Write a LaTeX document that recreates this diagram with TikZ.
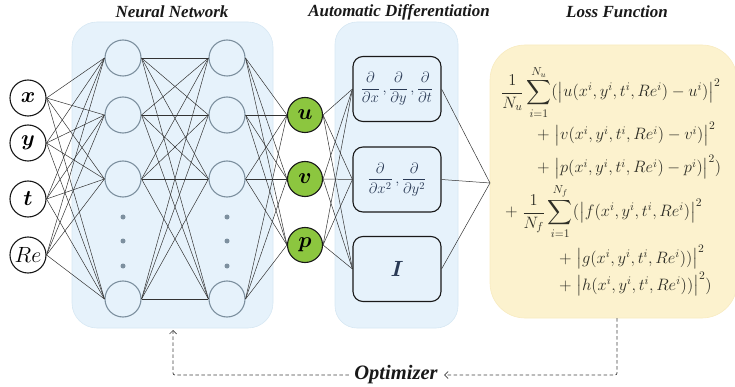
\RequirePackage{fix-cm}
\documentclass[tikz,border=0pt]{standalone}
\usepackage{amsmath}
\usepackage[no-math]{fontspec}
\newfontfamily\titlefont{Liberation Serif}
\usetikzlibrary{arrows.meta}
\definecolor{nnbg}{HTML}{E6F2FB}
\definecolor{nnborder}{HTML}{D6E7F3}
\definecolor{lossbg}{HTML}{FCF2CE}
\definecolor{lossborder}{HTML}{F8EBC0}
\definecolor{hcirc}{HTML}{7D909F}
\definecolor{outgreen}{HTML}{8CC63F}
\definecolor{eqcol}{HTML}{2E2E26}
\definecolor{adcol}{HTML}{2A3A55}
\definecolor{conncol}{HTML}{333333}
\tikzset{
  bgpanel/.style={fill=nnbg, draw=nnborder, line width=0.6pt},
  titletext/.style={font=\titlefont\bfseries\itshape\fontsize{17}{20}\selectfont, text=black!90},
  innode/.style={circle, draw=black!90, line width=1.1pt, fill=white, minimum size=36pt, inner sep=0pt, font=\fontsize{22}{26}\selectfont},
  hnode/.style={circle, draw=hcirc, line width=1.1pt, fill=nnbg, minimum size=36pt, inner sep=0pt},
  outnode/.style={circle, draw=black!90, line width=1.1pt, fill=outgreen, minimum size=35pt, inner sep=0pt, font=\fontsize{22}{26}\selectfont},
  adbox/.style={rectangle, rounded corners=10pt, draw=black!90, line width=1.1pt, fill=nnbg, minimum width=88pt, minimum height=65pt, inner sep=0pt, text=adcol, font=\fontsize{15}{18}\selectfont},
  conn/.style={draw=conncol, line width=0.5pt},
  dotnode/.style={circle, fill=hcirc, minimum size=5pt, inner sep=0pt},
  eqline/.style={anchor=base west, inner sep=0pt, text=eqcol, font=\fontsize{16.5}{20}\selectfont},
  dashl/.style={draw=black!75, line width=0.7pt, dash pattern=on 3.5pt off 2.5pt, rounded corners=2pt},
  optarrow/.style={-{Straight Barb[length=3.5pt,width=7pt]}}
}
\begin{document}
\begin{tikzpicture}[x=1pt,y=-1pt]
\useasboundingbox (0,0) rectangle (735,387);
% panels
\fill[bgpanel, rounded corners=25pt] (72,22) rectangle (273,328);
\fill[bgpanel, rounded corners=22pt] (335,22) rectangle (458,328);
\node[rectangle, rounded corners=35pt, fill=lossbg, draw=lossborder, line width=0.6pt, minimum width=247pt, minimum height=273pt, inner sep=0pt] (loss) at (613.5,181.5) {};
% titles
\node[titletext] (t1) at (172,12) {Neural Network};
\node[titletext] (t2) at (399,12) {Automatic Differentiation};
\node[titletext] (t3) at (617,12) {Loss Function};
% input nodes
\node[innode] (i1) at (28,98) {$\boldsymbol{x}$};
\node[innode] (i2) at (28,143) {$\boldsymbol{y}$};
\node[innode] (i3) at (28,199) {$\boldsymbol{t}$};
\node[innode] (i4) at (28,255) {$Re$};
% hidden layers
\foreach \y [count=\k] in {58,115,179,299} {
  \node[hnode] (ha\k) at (123,\y) {};
  \node[hnode] (hb\k) at (227,\y) {};
}
\foreach \y [count=\k] in {217,241,266} {
  \node[dotnode] (da\k) at (123,\y) {};
  \node[dotnode] (db\k) at (227,\y) {};
}
% outputs
\node[outnode] (o1) at (305,115) {$\boldsymbol{u}$};
\node[outnode] (o2) at (305,179) {$\boldsymbol{v}$};
\node[outnode] (o3) at (305,245) {$\boldsymbol{p}$};
% AD boxes
\node[adbox] (d1) at (397,89) {$\displaystyle\frac{\partial}{\partial x}\,,\frac{\partial}{\partial y}\,,\frac{\partial}{\partial t}$};
\node[adbox] (d2) at (397,179.5) {$\displaystyle\frac{\partial}{\partial x^2}\,,\frac{\partial}{\partial y^2}$};
\node[adbox, font=\fontsize{22}{26}\selectfont] (d3) at (397,269) {$\boldsymbol{I}$};
% connections
\foreach \a in {1,2,3,4} \foreach \b in {1,2,3,4} {
  \draw[conn] (i\a.east) -- (ha\b.west);
  \draw[conn] (ha\a.east) -- (hb\b.west);
}
\foreach \a in {1,2,3,4} \foreach \b in {1,2,3} {
  \draw[conn] (hb\a.east) -- (o\b.west);
}
\foreach \a in {1,2,3} \foreach \b in {1,2,3} {
  \draw[conn] (o\a.east) -- (d\b.west);
}
\coordinate (lin) at (490,183);
\foreach \a in {1,2,3} \draw[conn] (d\a.east) -- (lin);
% loss equations
\node[eqline] (e1) at (501,97) {$\displaystyle\frac{1}{N_u}\sum_{i=1}^{N_u}(\big|u(x^i,y^i,t^i,Re^i)-u^i)\big|^2$};
\node[eqline] (e2) at (537,140) {$+\;\big|v(x^i,y^i,t^i,Re^i)-v^i)\big|^2$};
\node[eqline] (e3) at (537,173) {$+\;\big|p(x^i,y^i,t^i,Re^i)-p^i)\big|^2)$};
\node[eqline] (e4) at (505,217) {$\displaystyle+\;\frac{1}{N_f}\sum_{i=1}^{N_f}(\big|f(x^i,y^i,t^i,Re^i)\big|^2$};
\node[eqline] (e5) at (559,263) {$+\;\big|g(x^i,y^i,t^i,Re^i))\big|^2$};
\node[eqline] (e6) at (559,290) {$+\;\big|h(x^i,y^i,t^i,Re^i))\big|^2)$};
% optimizer
\node[titletext, font=\titlefont\bfseries\itshape\fontsize{20.5}{24}\selectfont] (opt) at (396,375) {Optimizer};
\coordinate (lb) at (617,318);
\coordinate (nb) at (173,330);
\draw[dashl, optarrow] (lb) |- ([xshift=3pt]opt.east);
\draw[dashl, optarrow] ([xshift=-2pt]opt.west) -| (nb);
\end{tikzpicture}
\end{document}
